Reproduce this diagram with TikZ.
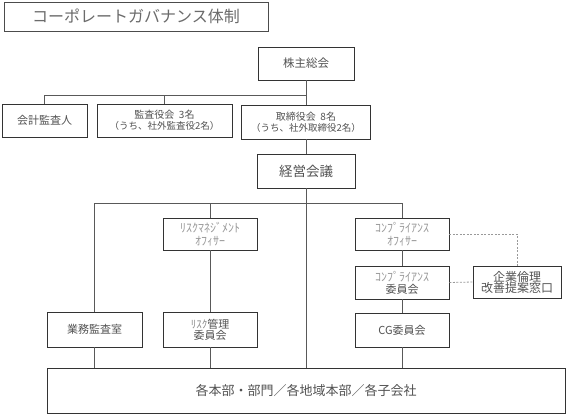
\documentclass[tikz,border=0pt]{standalone}
\usepackage{fontspec}
\setmainfont{Noto Sans CJK JP}
\newcommand{\fsz}[1]{\fontsize{#1}{#1}\selectfont}
\begin{document}
\begin{tikzpicture}[x=1pt,y=-1pt,
  box/.style={draw=black!80, line width=0.8pt, fill=white, inner sep=0pt, align=center, text=black!68},
  conn/.style={draw=black!65, line width=0.9pt},
  dotl/.style={draw=black!40, line width=0.8pt, dash pattern=on 2pt off 1.5pt},
  lite/.style={text=black!40}]
\useasboundingbox (0,0) rectangle (567,416);
\fill[white] (0,0) rectangle (567,416);
% title
\node[box, draw=black!70, minimum width=264pt, minimum height=29pt, text=black!58] (title) at (136,16.5) {\fsz{16}コーポレートガバナンス体制};
% top level
\node[box, minimum width=96pt, minimum height=33pt] (kabu) at (306,63.5) {\fsz{11.5}株主総会};
\node[box, minimum width=85pt, minimum height=33pt] (kaikei) at (44.5,120.5) {\fsz{11}会計監査人};
\node[box, minimum width=135pt, minimum height=33pt] (kansa) at (164.5,120.5) {\fsz{10}監査役会\ \ 3名\\[-1pt]\fsz{9.5}（うち、社外監査役2名）};
\node[box, minimum width=129pt, minimum height=34pt] (tori) at (306,122) {\fsz{10}取締役会\ \ 8名\\[-1pt]\fsz{9.5}（うち、社外取締役2名）};
\node[box, minimum width=98pt, minimum height=34pt] (keiei) at (306,171) {\fsz{13.5}経営会議};
% middle level
\node[box, minimum width=94pt, minimum height=32pt, lite] (rofc) at (210,234) {\fsz{12}ﾘｽｸﾏﾈｼﾞﾒﾝﾄ\\[1pt]\fsz{12}ｵﾌｨｻｰ};
\node[box, minimum width=94pt, minimum height=32pt, lite] (cofc) at (402,234) {\fsz{12}ｺﾝﾌﾟﾗｲｱﾝｽ\\[1pt]\fsz{12}ｵﾌｨｻｰ};
\node[box, minimum width=94pt, minimum height=33pt] (ccom) at (402,282.5) {\fsz{12}\textcolor{black!40}{ｺﾝﾌﾟﾗｲｱﾝｽ}\\[0pt]\fsz{11}委員会};
\node[box, minimum width=88pt, minimum height=32pt] (rinri) at (517,282) {\fsz{12}企業倫理\\[-1pt]\fsz{12}改善提案窓口};
% lower level
\node[box, minimum width=95pt, minimum height=35pt] (gyomu) at (94.5,329.5) {\fsz{11}業務監査室};
\node[box, minimum width=94pt, minimum height=35pt] (rcom) at (210,329.5) {\fsz{11}\textcolor{black!45}{\fsz{11}ﾘｽｸ}管理\\[-1pt]\fsz{11}委員会};
\node[box, minimum width=94pt, minimum height=34pt] (cg) at (402,330) {\fsz{11}CG委員会};
\node[box, minimum width=518pt, minimum height=45pt] (big) at (306,390.5) {\fsz{13}各本部・部門／各地域本部／各子会社};
% junctions
\coordinate (j1) at (306,95);
\coordinate (j2) at (306,203);
% connectors
\draw[conn] (kabu.south) -- (tori.north);
\draw[conn] (kaikei.north) |- (j1);
\draw[conn] (kansa.north) -- (kansa.north |- j1);
\draw[conn] (tori.south) -- (keiei.north);
\draw[conn] (keiei.south) -- (keiei.south |- big.north);
\draw[conn] (gyomu.north) |- (cofc.north |- j2) -- (cofc.north);
\draw[conn] (rofc.north) -- (rofc.north |- j2);
\draw[conn] (rofc.south) -- (rcom.north);
\draw[conn] (cofc.south) -- (ccom.north);
\draw[conn] (ccom.south) -- (cg.north);
\draw[conn] (gyomu.south) -- (gyomu.south |- big.north);
\draw[conn] (rcom.south) -- (rcom.south |- big.north);
\draw[conn] (cg.south) -- (cg.south |- big.north);
\draw[dotl] (cofc.east) -| (rinri.north);
\draw[dotl] (ccom.east) -- (rinri.west);
\end{tikzpicture}
\end{document}
